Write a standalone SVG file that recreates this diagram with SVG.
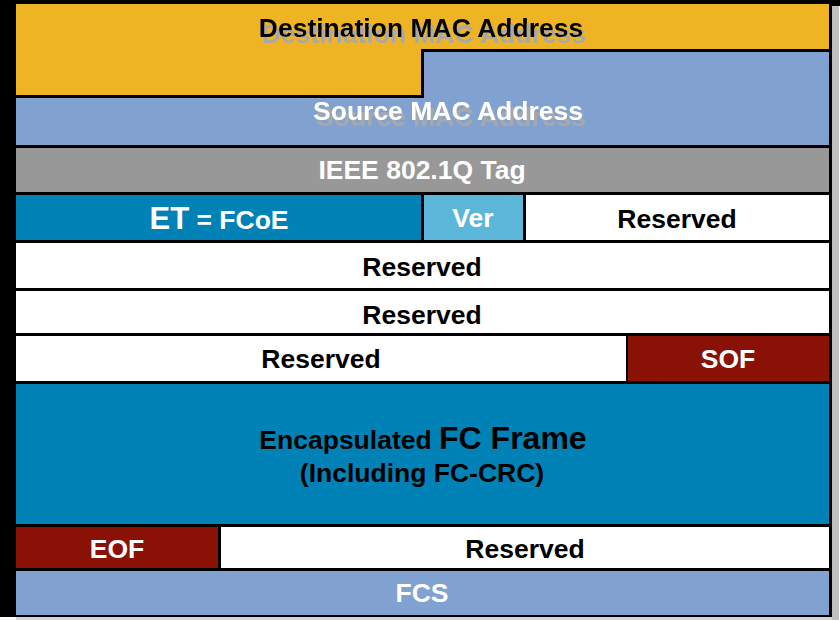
<svg xmlns="http://www.w3.org/2000/svg" width="840" height="620" viewBox="0 0 840 620">
<defs>
<filter id="shadow" x="-5%" y="-30%" width="115%" height="180%">
<feOffset in="SourceAlpha" dx="3" dy="6" result="off"/>
<feFlood flood-color="#a8a8a8"/>
<feComposite in2="off" operator="in" result="sh"/>
<feMerge><feMergeNode in="sh"/><feMergeNode in="SourceGraphic"/></feMerge>
</filter>
</defs>
<style>
text{font-family:"Liberation Sans",Arial,Helvetica,sans-serif;font-weight:bold;font-size:26.5px;text-anchor:middle}
.w{fill:#ffffff}
.k{fill:#000000}
.white{fill:#ffffff}
.teal{fill:#0082B7}
.red{fill:#8A1106}
.lblue{fill:#81A2D0}
</style>
<rect x="0" y="0" width="840" height="620" fill="#ffffff"/>
<rect x="0" y="0" width="832" height="617" fill="#000000"/>
<rect x="832" y="0" width="8" height="6" fill="#000000"/>
<rect x="832" y="6" width="7" height="614" fill="#c0c0c0"/>
<rect x="16" y="617" width="816" height="3" fill="#d4d4d4"/>

<g id="dest-mac">
<path d="M16 4 H829 V49 H421 V95 H16 Z" fill="#EFB424"/>
<text x="421" y="37" class="k" filter="url(#shadow)">Destination MAC Address</text>
</g>
<g id="source-mac">
<path d="M16 98 H424 V52 H829 V145 H16 Z" class="lblue"/>
<text x="448" y="120" class="w" filter="url(#shadow)">Source MAC Address</text>
</g>
<g id="vlan-tag">
<rect x="16" y="148" width="813" height="44" fill="#989898"/>
<text x="422" y="179" class="w">IEEE 802.1Q Tag</text>
</g>
<g id="ethertype">
<rect x="16" y="195" width="405" height="45" class="teal"/>
<text x="219" y="229" class="w"><tspan font-size="31">ET</tspan> = FCoE</text>
</g>
<g id="ver">
<rect x="424" y="195" width="99" height="45" fill="#5BB6DA"/>
<text x="473" y="227" class="w">Ver</text>
</g>
<g id="reserved-1">
<rect x="526" y="195" width="303" height="45" class="white"/>
<text x="677" y="228" class="k">Reserved</text>
</g>
<g id="reserved-2">
<rect x="16" y="243" width="813" height="45" class="white"/>
<text x="422" y="276" class="k">Reserved</text>
</g>
<g id="reserved-3">
<rect x="16" y="291" width="813" height="42" class="white"/>
<text x="422" y="324" class="k">Reserved</text>
</g>
<g id="reserved-4">
<rect x="16" y="336" width="610" height="45" class="white"/>
<text x="321" y="368" class="k">Reserved</text>
</g>
<g id="sof">
<rect x="628" y="336" width="201" height="45" class="red"/>
<text x="728" y="368" class="w">SOF</text>
</g>
<g id="fc-frame">
<rect x="16" y="384" width="813" height="140" class="teal"/>
<text x="423" y="449" class="k">Encapsulated <tspan font-size="32">FC Frame</tspan></text>
<text x="422" y="482" class="k">(Including FC-CRC)</text>
</g>
<g id="eof">
<rect x="16" y="527" width="202" height="41" class="red"/>
<text x="117" y="558" class="w">EOF</text>
</g>
<g id="reserved-5">
<rect x="221" y="527" width="608" height="41" class="white"/>
<text x="525" y="558" class="k">Reserved</text>
</g>
<g id="fcs">
<rect x="16" y="571" width="813" height="44" class="lblue"/>
<text x="422" y="602" class="w">FCS</text>
</g>
<g id="connectors"/>
</svg>
